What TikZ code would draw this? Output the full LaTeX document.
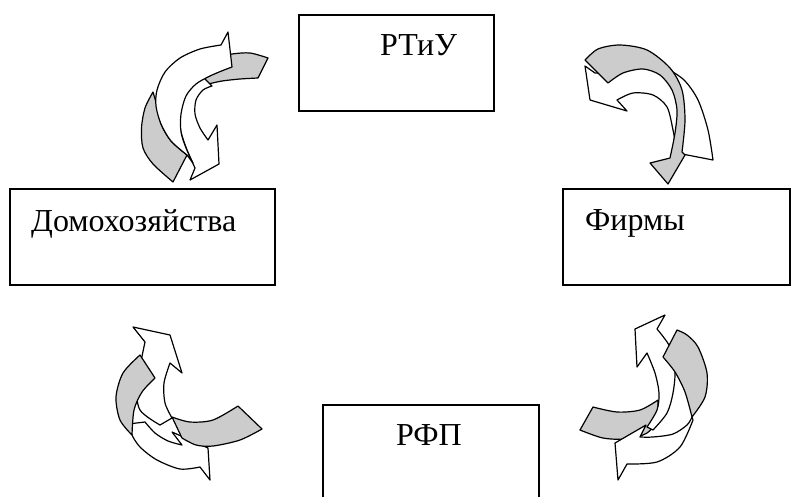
\documentclass[tikz,border=0pt]{standalone}
\usepackage{fontspec}
\setmainfont{Liberation Serif}
\begin{document}
\begin{tikzpicture}
  [x=1pt,y=-1pt,
   box/.style={draw,line width=1.5pt,minimum width=#1,minimum height=96pt,inner sep=0pt},
   lbl/.style={anchor=base west,inner sep=0pt,font=\fontsize{32}{38}\selectfont},
   back/.style={draw,line width=1.2pt,line join=round,fill=black!20},
   front/.style={draw,line width=1.2pt,line join=round,fill=white}]
  \useasboundingbox (0,0) rectangle (792,496);
  \node[box=195pt] (rtiu) at (396.5,63) {};
  \node[box=265pt] (home) at (142.5,237) {};
  \node[box=227pt] (firms) at (676.5,237) {};
  \node[box=216pt] (rfp) at (431,453) {};
  \node[lbl] (rtiulbl) at (380,55) {РТиУ};
  \node[lbl] (homelbl) at (31,231) {Домохозяйства};
  \node[lbl] (firmslbl) at (585,230) {Фирмы};
  \node[lbl] (rfplbl) at (396,445) {РФП};

  % top left
  \draw[back] plot[smooth] coordinates {(268,58) (250,53) (232,54) (214,58) (198,66) (190,78)}
    -- plot[smooth] coordinates {(196,86) (208,84) (222,81) (240,79) (258,78)} -- cycle;
  \draw[front] plot[smooth] coordinates {(200,74) (188,82) (181,96) (179,114) (181,132) (187,150) (195,168)}
    -- (190,180) -- (219,164) -- (217,125)
    -- plot[smooth] coordinates {(208,140) (200,128) (195,114) (196,100) (203,90) (212,86)} -- cycle;
  \draw[back] plot[smooth] coordinates {(153,92) (145,108) (141.5,128) (143,148) (153,164) (173,182)}
    -- (187,155) -- plot[smooth] coordinates {(187,155) (171,141) (161,124) (157,106) (153,92)} -- cycle;
  \draw[front] plot[smooth] coordinates {(187,155) (171,141) (161,124) (156,106) (157,90) (165,72) (180,58) (200,49) (221,45)}
    -- (228,32) -- (232,67)
    -- plot[smooth] coordinates {(224,70) (210,76) (196,84) (186,96) (181,114) (181,132) (186,148) (193,163)} -- cycle;

  % top right
  \draw[front] (585,66) -- (590,100) -- (627,111)
    -- plot[smooth] coordinates {(617,100) (633,93) (653,95) (667,107) (673,130) (677,153)} -- (713,160)
    -- plot[smooth] coordinates {(713,160) (708,130) (698,100) (684,80) (665,68) (645,63) (625,65) (610,72) (595,73)} -- cycle;
  \draw[back] (585,60)
    -- plot[smooth] coordinates {(608,83) (623,73) (643,69) (660,75) (672,90) (677,110) (675,133) (670,158)}
    -- (650,163) -- (668,184) -- (685,155)
    -- plot[smooth] coordinates {(682,152) (685,120) (682,90) (670,68) (647,50) (620,45) (598,49) (585,60)} -- cycle;

  % bottom left
  \draw[front] plot[smooth] coordinates {(128,424) (133,437) (141,448) (157,460) (180,469) (200,467)}
    -- (210,480) -- (208,448) -- (172,432)
    -- plot[smooth] coordinates {(182,445) (168,441) (155,433) (145,422)} -- cycle;
  \draw[front] (133,327) -- (170,335) -- (182,373)
    -- plot[smooth] coordinates {(170,363) (164,383) (165,403) (172,418)}
    -- plot[smooth] coordinates {(160,425) (140,410) (137,385) (145,342)} -- cycle;
  \draw[back] plot[smooth] coordinates {(140,355) (123,373) (116,397) (120,420) (132,435)}
    -- plot[smooth] coordinates {(132,435) (134,410) (142,392) (155,378)} -- cycle;
  \draw[back] plot[smooth] coordinates {(172,417) (190,422) (213,420) (238,406)} -- (262,429)
    -- plot[smooth] coordinates {(262,429) (240,440) (213,446) (196,445) (182,438)} -- cycle;

  % bottom right
  \draw[back] (593,407) -- (580,430)
    -- plot[smooth] coordinates {(580,430) (603,438) (627,439) (647,433) (658,420)}
    -- plot[smooth] coordinates {(658,400) (640,410) (617,412) (593,407)} -- cycle;
  \draw[front] (635,329) -- (665,315)
    -- plot[smooth] coordinates {(657,329) (670,347) (675,370) (673,393) (667,413) (653,430)}
    -- plot[smooth] coordinates {(647,427) (657,410) (659,393) (655,373) (647,353)} -- (637,367) -- cycle;
  \draw[front] (615,443) -- (618,480)
    -- plot[smooth] coordinates {(627,464) (657,462) (680,447) (693,420)}
    -- plot[smooth] coordinates {(692,417) (687,425) (673,434) (653,437) (640,437)} -- (646,425) -- cycle;
  \draw[back] (677,330) -- (663,357)
    -- plot[smooth] coordinates {(663,357) (675,372) (685,392) (692,417)}
    -- plot[smooth] coordinates {(692,417) (705,397) (707,373) (698,347) (687,335) (677,330)} -- cycle;
\end{tikzpicture}
\end{document}
